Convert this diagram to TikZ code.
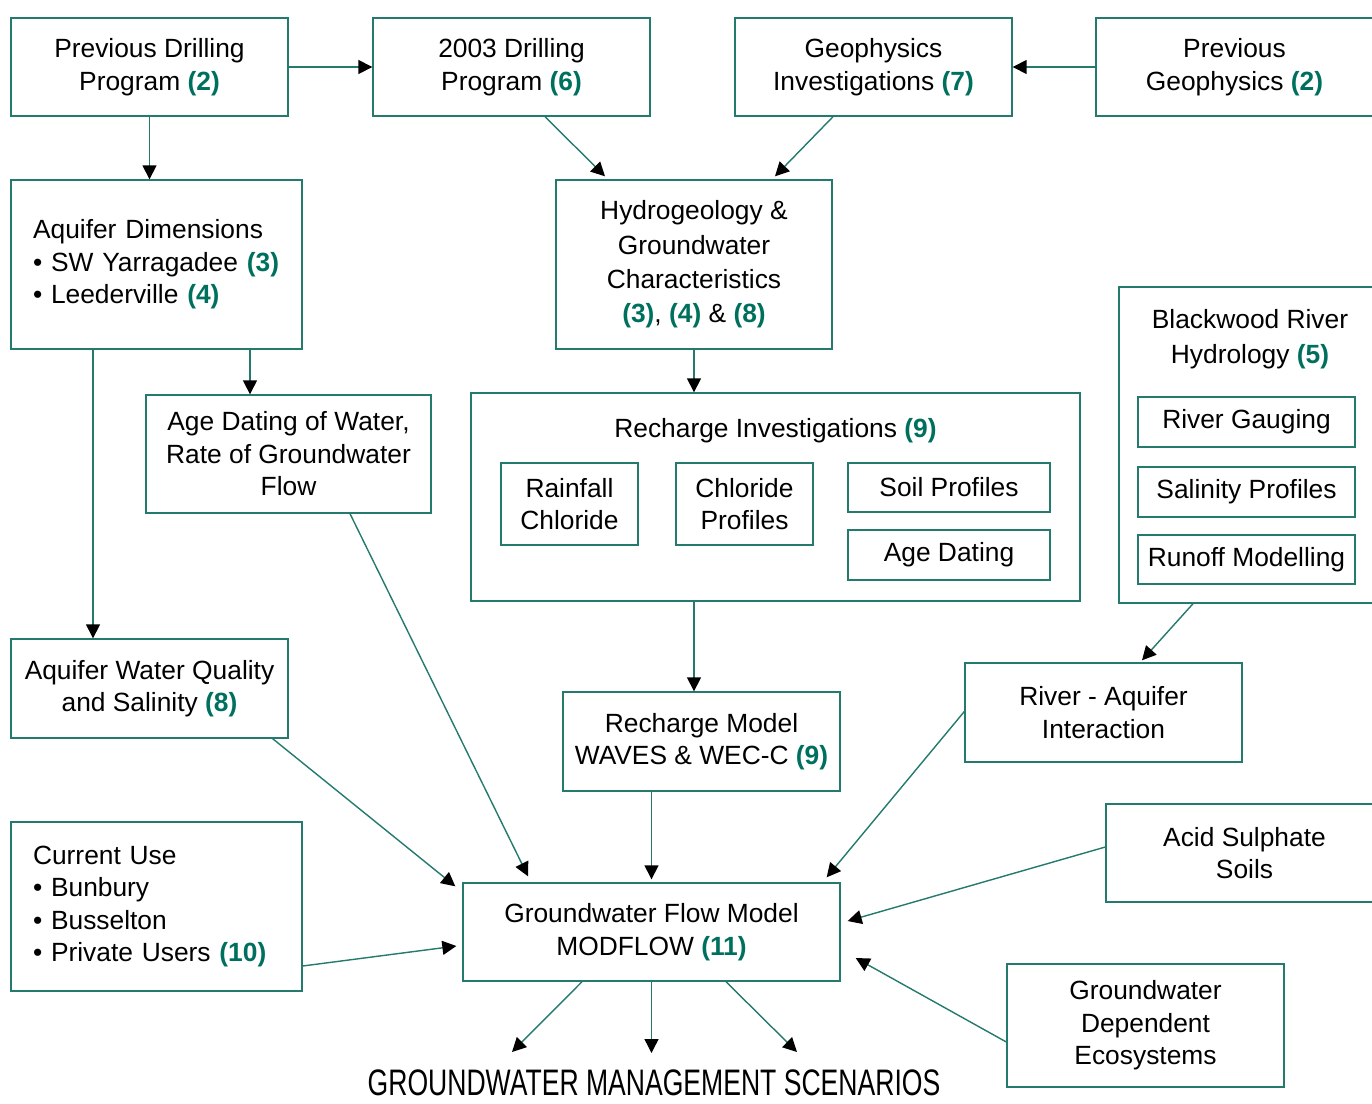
\documentclass[tikz,border=0pt]{standalone}
\usepackage{fontspec}
\setmainfont{Liberation Sans}
\usetikzlibrary{arrows.meta}
\definecolor{boxteal}{RGB}{36,122,108}
\definecolor{numteal}{RGB}{0,112,94}
\newcommand{\refnum}[1]{\textcolor{numteal}{\textbf{(#1)}}}
\begin{document}
\begin{tikzpicture}[x=0.02cm,y=-0.02cm,
	every node/.style={font=\fontsize{15}{18.5}\selectfont},
	box/.style={draw=boxteal,line width=0.8pt,align=center,inner sep=0pt,minimum width=5.54cm,minimum height=1.96cm},
	subbox/.style={draw=boxteal,line width=0.8pt,align=center,inner sep=0pt},
	listbox/.style={draw=boxteal,line width=0.8pt,align=left,inner xsep=0.44cm,inner ysep=0pt,text width=4.94cm,minimum height=3.38cm},
	arr/.style={draw=boxteal,line width=0.8pt,-{Triangle[color=black,width=0.28cm,length=0.28cm]}}]
	\useasboundingbox (0,0) rectangle (1372,1103);
	
	\node[box] (prevdrill) at (149.5,67) {Previous Drilling\\Program \refnum{2}};
	\node[box] (drill2003) at (511.5,67) {2003 Drilling\\Program \refnum{6}};
	\node[box] (geophys) at (873.5,67) {Geophysics\\Investigations \refnum{7}};
	\node[box] (prevgeo) at (1234.5,67) {Previous\\Geophysics \refnum{2}};
	
	\node[listbox] (aqdim) at (156.5,264.5) {Aquifer Dimensions\\\textbullet\ SW Yarragadee \refnum{3}\\\textbullet\ Leederville \refnum{4}};
	\node[box,minimum width=5.52cm,minimum height=3.38cm,font=\fontsize{15}{19.5}\selectfont] (hydro) at (694,264.5) {Hydrogeology \&\\Groundwater\\Characteristics\\\refnum{3}, \refnum{4} \& \refnum{8}};
	
	\node[box,minimum width=5.1cm,minimum height=6.32cm] (blackwood) at (1246.5,445) {};
	\node[font=\fontsize{15}{20}\selectfont,align=center] (bwtitle) at (1250,339.5) {Blackwood River\\Hydrology \refnum{5}};
	\node[subbox,minimum width=4.34cm,minimum height=1cm] (gauging) at (1246.5,422) {River Gauging};
	\node[subbox,minimum width=4.34cm,minimum height=1cm] (salinity) at (1246.5,492) {Salinity Profiles};
	\node[subbox,minimum width=4.34cm,minimum height=0.98cm] (runoff) at (1246.5,559.5) {Runoff Modelling};
	
	\node[box,minimum width=5.7cm,minimum height=2.36cm] (agewater) at (288.5,454) {Age Dating of Water,\\Rate of Groundwater\\Flow};
	
	\node[box,minimum width=12.18cm,minimum height=4.16cm] (recharge) at (775.5,497) {};
	\node (rechtitle) at (775.5,431) {Recharge Investigations \refnum{9}};
	\node[subbox,minimum width=2.74cm,minimum height=1.64cm] (rainfall) at (569.5,504) {Rainfall\\Chloride};
	\node[subbox,minimum width=2.74cm,minimum height=1.64cm] (chlprof) at (744.5,504) {Chloride\\Profiles};
	\node[subbox,minimum width=4.04cm,minimum height=0.98cm] (soil) at (949,487.5) {Soil Profiles};
	\node[subbox,minimum width=4.04cm,minimum height=1cm] (agedating) at (949,555) {Age Dating};
	
	\node[box,minimum height=1.98cm] (aqwq) at (149.5,688.5) {Aquifer Water Quality\\and Salinity \refnum{8}};
	\node[box,minimum height=1.98cm] (rechmodel) at (701.5,741.5) {Recharge Model\\WAVES \& WEC-C \refnum{9}};
	\node[box,minimum height=1.98cm] (riveraq) at (1103.5,712.5) {River - Aquifer\\Interaction};
	\node[box] (acid) at (1244.5,853) {Acid Sulphate\\Soils};
	\node[listbox] (curuse) at (156.5,906.5) {Current Use\\\textbullet\ Bunbury\\\textbullet\ Busselton\\\textbullet\ Private Users \refnum{10}};
	\node[box,minimum width=7.54cm] (gwmodel) at (651.5,932) {Groundwater Flow Model\\MODFLOW \refnum{11}};
	\node[box,minimum height=2.46cm] (gde) at (1145.5,1025.5) {Groundwater\\Dependent\\Ecosystems};
	
	\node[font=\fontsize{21}{24}\selectfont,inner sep=0pt] (scen) at (654,1083) {\scalebox{0.72}[1]{GROUNDWATER MANAGEMENT SCENARIOS}};
	
	\coordinate (sc1) at (512,1052);
	\coordinate (sc2) at (651.5,1053);
	\coordinate (sc3) at (797,1052);
	
	\draw[arr] (prevdrill.east) -- (drill2003.west);
	\draw[arr] (prevgeo.west) -- (geophys.east);
	\draw[arr] (prevdrill.south) -- (prevdrill.south |- aqdim.north);
	\draw[arr] ([xshift=0.67cm]drill2003.south) -- ([xshift=-1.78cm,yshift=0.06cm]hydro.north);
	\draw[arr] ([xshift=-0.81cm]geophys.south) -- ([xshift=1.62cm,yshift=0.06cm]hydro.north);
	\draw[arr] ([xshift=1.87cm]aqdim.south) -- ([xshift=1.87cm]aqdim.south |- agewater.north);
	\draw[arr] ([xshift=-1.27cm]aqdim.south) -- ([xshift=-1.27cm]aqdim.south |- aqwq.north);
	\draw[arr] (hydro.south) -- (hydro.south |- recharge.north);
	\draw[arr] (hydro.south |- recharge.south) -- (hydro.south |- rechmodel.north);
	\draw[arr] ([xshift=-1.07cm]blackwood.south) -- ([xshift=0.77cm,yshift=0.04cm]riveraq.north);
	\draw[arr] ([xshift=1.23cm]agewater.south) -- ([xshift=-2.47cm,yshift=0.12cm]gwmodel.north);
	\draw[arr] ([xshift=-0.32cm]aqwq.south east) -- ([shift={(-0.14cm,-0.08cm)}]gwmodel.north west);
	\draw[arr] (gwmodel.north |- rechmodel.south) -- ([yshift=0.06cm]gwmodel.north);
	\draw[arr] ([yshift=0.02cm]riveraq.west) -- ([shift={(-0.28cm,0.1cm)}]gwmodel.north east);
	\draw[arr] ([yshift=0.12cm]acid.west) -- ([shift={(0.14cm,0.22cm)}]gwmodel.east);
	\draw[arr] ([yshift=-1.19cm]curuse.east) -- ([shift={(-0.12cm,-0.28cm)}]gwmodel.west);
	\draw[arr] ([yshift=-0.33cm]gde.west) -- ([shift={(0.3cm,-0.52cm)}]gwmodel.east);
	\draw[arr] ([xshift=-1.39cm]gwmodel.south) -- (sc1);
	\draw[arr] (gwmodel.south) -- (sc2);
	\draw[arr] ([xshift=1.49cm]gwmodel.south) -- (sc3);
\end{tikzpicture}
\end{document}
